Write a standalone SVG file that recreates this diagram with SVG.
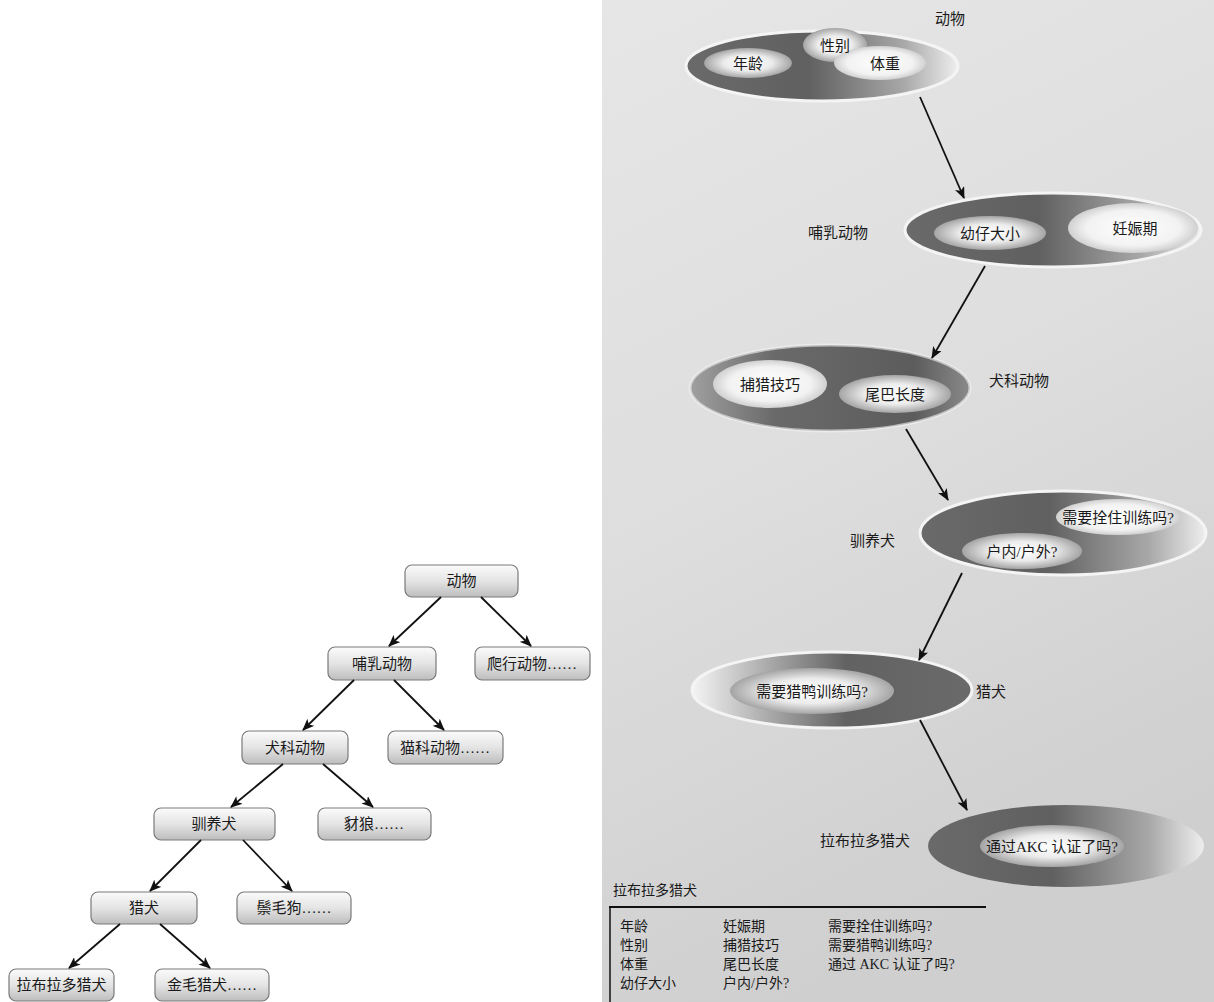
<svg xmlns="http://www.w3.org/2000/svg" width="1214" height="1002" viewBox="0 0 1214 1002">
<style>
  text { font-family: "Liberation Serif", "Noto Sans CJK SC", serif; fill: #1a1a1a; }
  .tn { font-size: 15px; text-anchor: middle; }
  .box { fill: url(#boxG); stroke: #7a7a7a; stroke-width: 1.2; }
  .lbl { font-size: 15px; }
  .in { font-size: 15px; text-anchor: middle; }
  .tb { font-size: 14px; }
  .con { stroke: #111; stroke-width: 1.8; fill: none; marker-end: url(#ah); }
  .rim { fill: none; stroke: #f4f4f4; stroke-width: 3; }
</style>
<defs>
  <marker id="ah" viewBox="0 0 12 10" refX="11" refY="5" markerWidth="12" markerHeight="10" markerUnits="userSpaceOnUse" orient="auto">
    <path d="M0,0 L12,5 L0,10 L3,5 Z" fill="#111"/>
  </marker>
  <linearGradient id="boxG" x1="0" y1="0" x2="0" y2="1">
    <stop offset="0" stop-color="#fbfbfb"/>
    <stop offset="0.5" stop-color="#e4e4e4"/>
    <stop offset="1" stop-color="#bdbdbd"/>
  </linearGradient>
  <linearGradient id="panelG" x1="0" y1="0" x2="0.3" y2="1">
    <stop offset="0" stop-color="#e6e6e6"/>
    <stop offset="0.5" stop-color="#dedede"/>
    <stop offset="1" stop-color="#cfcfcf"/>
  </linearGradient>
  <linearGradient id="ringLR" x1="0" y1="0" x2="1" y2="0">
    <stop offset="0" stop-color="#6a6a6a"/>
    <stop offset="0.45" stop-color="#606060"/>
    <stop offset="0.8" stop-color="#a8a8a8"/>
    <stop offset="1" stop-color="#eeeeee"/>
  </linearGradient>
  <linearGradient id="ringRL" x1="1" y1="0" x2="0" y2="0">
    <stop offset="0" stop-color="#6a6a6a"/>
    <stop offset="0.45" stop-color="#626262"/>
    <stop offset="0.75" stop-color="#b0b0b0"/>
    <stop offset="1" stop-color="#f4f4f4"/>
  </linearGradient>
  <linearGradient id="ringMid" x1="0" y1="0" x2="1" y2="0">
    <stop offset="0" stop-color="#a0a0a0"/>
    <stop offset="0.3" stop-color="#6a6a6a"/>
    <stop offset="0.8" stop-color="#5c5c5c"/>
    <stop offset="1" stop-color="#8a8a8a"/>
  </linearGradient>
  <radialGradient id="inG" cx="0.5" cy="0.5" r="0.6">
    <stop offset="0" stop-color="#ffffff"/>
    <stop offset="0.45" stop-color="#ececec"/>
    <stop offset="1" stop-color="#858585"/>
  </radialGradient>
  <radialGradient id="inW" cx="0.5" cy="0.5" r="0.6">
    <stop offset="0" stop-color="#ffffff"/>
    <stop offset="0.6" stop-color="#f2f2f2"/>
    <stop offset="1" stop-color="#b8b8b8"/>
  </radialGradient>
</defs>

<rect x="0" y="0" width="1214" height="1002" fill="#ffffff"/>
<rect x="602" y="0" width="612" height="1002" fill="url(#panelG)"/>

<!-- Tree diagram -->
<g id="t-animal"><rect class="box" x="405" y="565" width="113" height="32" rx="7"/><text class="tn" x="461.5" y="586">动物</text></g>
<g id="t-mammal"><rect class="box" x="328" y="647" width="108" height="33" rx="7"/><text class="tn" x="382" y="669">哺乳动物</text></g>
<g id="t-reptile"><rect class="box" x="475" y="647" width="115" height="33" rx="7"/><text class="tn" x="532" y="669">爬行动物……</text></g>
<g id="t-canine"><rect class="box" x="242" y="731" width="106" height="33" rx="7"/><text class="tn" x="295" y="753">犬科动物</text></g>
<g id="t-feline"><rect class="box" x="388" y="731" width="115" height="33" rx="7"/><text class="tn" x="445" y="753">猫科动物……</text></g>
<g id="t-domestic"><rect class="box" x="154" y="808" width="121" height="32" rx="7"/><text class="tn" x="214" y="829">驯养犬</text></g>
<g id="t-jackal"><rect class="box" x="318" y="808" width="113" height="32" rx="7"/><text class="tn" x="374" y="829">豺狼……</text></g>
<g id="t-hound"><rect class="box" x="91" y="892" width="106" height="32" rx="7"/><text class="tn" x="144" y="913">猎犬</text></g>
<g id="t-maned"><rect class="box" x="237" y="892" width="114" height="32" rx="7"/><text class="tn" x="294" y="913">鬃毛狗……</text></g>
<g id="t-lab"><rect class="box" x="9" y="969" width="105" height="32" rx="7"/><text class="tn" x="61.5" y="990">拉布拉多猎犬</text></g>
<g id="t-golden"><rect class="box" x="155" y="969" width="114" height="32" rx="7"/><text class="tn" x="212" y="990">金毛猎犬……</text></g>

<!-- Ellipse chain -->
<g id="e-animal">
  <ellipse cx="822" cy="66" rx="136" ry="35" fill="url(#ringLR)"/>
  <ellipse class="rim" cx="822" cy="66" rx="136" ry="35"/>
  <ellipse cx="835" cy="45" rx="32" ry="17" fill="url(#inG)"/>
  <ellipse cx="748" cy="63" rx="44" ry="15" fill="url(#inG)"/>
  <ellipse cx="880" cy="63" rx="46" ry="17" fill="url(#inW)"/>
  <text class="in" x="835" y="51">性别</text>
  <text class="in" x="748" y="69">年龄</text>
  <text class="in" x="885" y="69">体重</text>
  <text class="lbl" x="935" y="24">动物</text>
</g>
<g id="e-mammal">
  <ellipse cx="1053" cy="230" rx="148" ry="37" fill="url(#ringLR)"/>
  <ellipse class="rim" cx="1053" cy="230" rx="148" ry="37"/>
  <ellipse cx="990" cy="233" rx="56" ry="17" fill="url(#inG)"/>
  <ellipse cx="1133" cy="228" rx="65" ry="25" fill="url(#inW)"/>
  <text class="in" x="990" y="239">幼仔大小</text>
  <text class="in" x="1135" y="234">妊娠期</text>
  <text class="lbl" x="808" y="238">哺乳动物</text>
</g>
<g id="e-canine">
  <ellipse cx="830" cy="388" rx="140" ry="43" fill="url(#ringMid)"/>
  <ellipse class="rim" cx="830" cy="388" rx="140" ry="43" stroke-opacity="0.6"/>
  <ellipse cx="770" cy="384" rx="57" ry="24" fill="url(#inW)"/>
  <ellipse cx="895" cy="394" rx="56" ry="19" fill="url(#inG)"/>
  <text class="in" x="770" y="390">捕猎技巧</text>
  <text class="in" x="895" y="400">尾巴长度</text>
  <text class="lbl" x="989" y="386">犬科动物</text>
</g>
<g id="e-domestic">
  <ellipse cx="1063" cy="533" rx="143" ry="42" fill="url(#ringLR)"/>
  <ellipse class="rim" cx="1063" cy="533" rx="143" ry="42"/>
  <ellipse cx="1118" cy="517" rx="62" ry="18" fill="url(#inW)"/>
  <ellipse cx="1022" cy="551" rx="60" ry="18" fill="url(#inG)"/>
  <text class="in" x="1118" y="523">需要拴住训练吗?</text>
  <text class="in" x="1022" y="557">户内/户外?</text>
  <text class="lbl" x="850" y="546">驯养犬</text>
</g>
<g id="e-hound">
  <ellipse cx="832" cy="690" rx="140" ry="38" fill="url(#ringRL)"/>
  <ellipse class="rim" cx="832" cy="690" rx="140" ry="38"/>
  <ellipse cx="812" cy="691" rx="82" ry="23" fill="url(#inG)"/>
  <text class="in" x="812" y="697">需要猎鸭训练吗?</text>
  <text class="lbl" x="976" y="697">猎犬</text>
</g>
<g id="e-lab">
  <ellipse cx="1066" cy="846" rx="138" ry="41" fill="url(#ringLR)"/>
  <ellipse cx="1052" cy="846" rx="72" ry="21" fill="url(#inG)"/>
  <text class="in" x="1052" y="852">通过AKC 认证了吗?</text>
  <text class="lbl" x="820" y="846">拉布拉多猎犬</text>
</g>

<!-- Table -->
<g id="table">
  <text class="tb" x="613" y="895">拉布拉多猎犬</text>
  <line x1="609" y1="907" x2="986" y2="907" stroke="#111" stroke-width="2"/>
  <line x1="610" y1="907" x2="610" y2="1002" stroke="#111" stroke-width="1.5"/>
  <text class="tb" x="620" y="931">年龄</text>
  <text class="tb" x="620" y="950">性别</text>
  <text class="tb" x="620" y="969">体重</text>
  <text class="tb" x="620" y="988">幼仔大小</text>
  <text class="tb" x="723" y="931">妊娠期</text>
  <text class="tb" x="723" y="950">捕猎技巧</text>
  <text class="tb" x="723" y="969">尾巴长度</text>
  <text class="tb" x="723" y="988">户内/户外?</text>
  <text class="tb" x="828" y="931">需要拴住训练吗?</text>
  <text class="tb" x="828" y="950">需要猎鸭训练吗?</text>
  <text class="tb" x="828" y="969">通过 AKC 认证了吗?</text>
</g>

<!-- Connectors -->
<g id="connectors">
  <line class="con" x1="441" y1="597" x2="389" y2="646"/>
  <line class="con" x1="481" y1="597" x2="531" y2="646"/>
  <line class="con" x1="354" y1="680" x2="303" y2="730"/>
  <line class="con" x1="394" y1="680" x2="444" y2="730"/>
  <line class="con" x1="283" y1="764" x2="231" y2="807"/>
  <line class="con" x1="323" y1="764" x2="373" y2="807"/>
  <line class="con" x1="201" y1="840" x2="150" y2="891"/>
  <line class="con" x1="243" y1="840" x2="292" y2="891"/>
  <line class="con" x1="120" y1="924" x2="69" y2="968"/>
  <line class="con" x1="160" y1="924" x2="210" y2="968"/>
  <line class="con" x1="920" y1="97" x2="964" y2="198"/>
  <line class="con" x1="985" y1="266" x2="932" y2="358"/>
  <line class="con" x1="906" y1="429" x2="948" y2="500"/>
  <line class="con" x1="962" y1="573" x2="919" y2="660"/>
  <line class="con" x1="920" y1="720" x2="967" y2="810"/>
</g>
</svg>
